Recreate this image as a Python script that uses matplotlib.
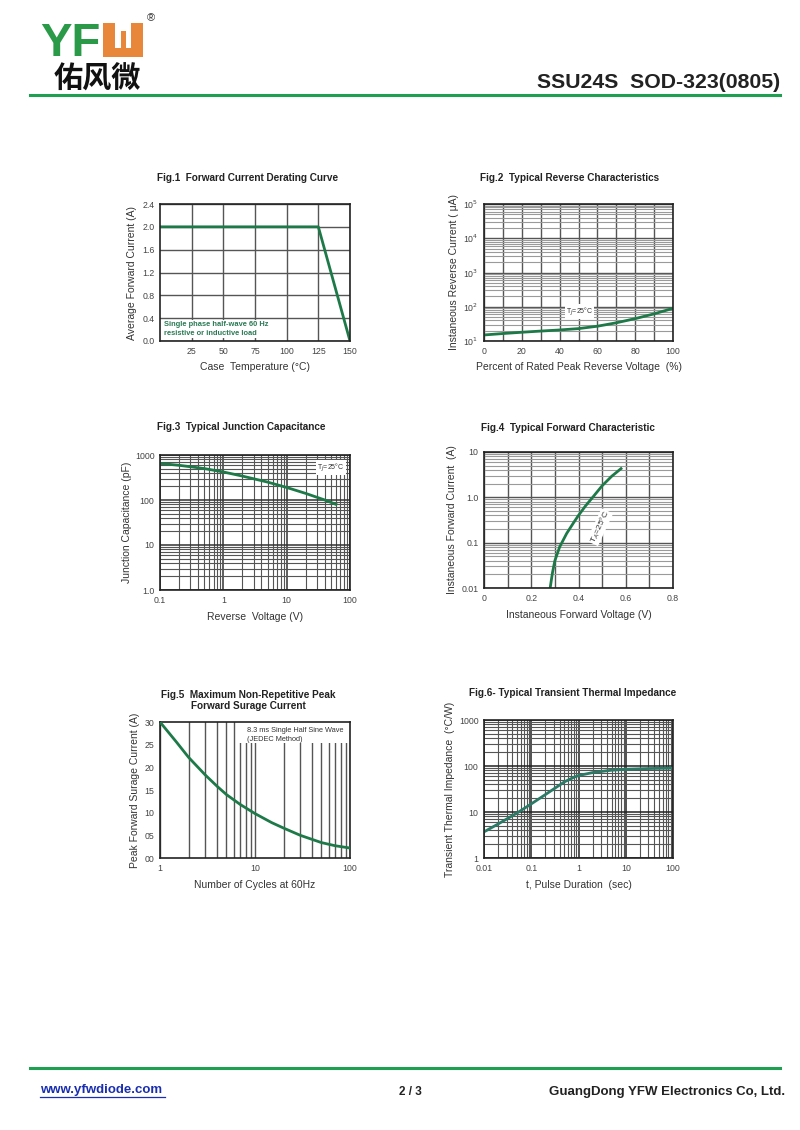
import matplotlib.pyplot as plt
from matplotlib.patches import Rectangle
from matplotlib.ticker import FixedLocator, NullFormatter, LogLocator
import numpy as np

plt.rcParams['font.family'] = ['Liberation Sans', 'DejaVu Sans']

W, H = 800, 1130
GREEN = '#1d7a48'
GRID = '#555555'
LIGHT = '#9a9a9a'
ORANGE = '#e8873a'

# Fig.1 derating
f1_temp = [0, 125, 150]
f1_curr = [2.0, 2.0, 0.0]
# Fig.2 reverse characteristics
f2_pct = [0, 10, 20, 30, 40, 50, 60, 70, 80, 90, 100]
f2_ir = [15, 16.5, 18, 19.5, 21, 23, 27, 34, 45, 62, 90]
# Fig.3 junction capacitance
f3_v = [0.1, 0.2, 0.5, 1, 2, 5, 10, 20, 40, 60]
f3_c = [650, 590, 500, 420, 340, 250, 190, 140, 100, 80]
# Fig.4 forward characteristic
f4_v = [0.28, 0.29, 0.30, 0.32, 0.35, 0.38, 0.40, 0.43, 0.46, 0.50, 0.54, 0.58]
f4_i = [0.01, 0.022, 0.04, 0.08, 0.16, 0.28, 0.40, 0.65, 1.0, 1.8, 2.9, 4.3]
# Fig.5 surge current
f5_n = [1, 1.5, 2, 3, 4, 5, 7, 10, 15, 20, 30, 50, 70, 100]
f5_a = [30, 25.5, 22.2, 18.3, 15.8, 14.0, 11.8, 9.8, 7.8, 6.6, 5.0, 3.4, 2.7, 2.2]
# Fig.6 thermal impedance
f6_t = [0.01, 0.02, 0.05, 0.1, 0.2, 0.5, 0.8, 1, 2, 5, 10, 30, 100]
f6_z = [3.7, 5.5, 9.5, 15, 24, 45, 57, 62, 72, 81, 85, 88, 90]


def add_ax(fig, l, t, r, b):
    return fig.add_axes([l / W, 1 - b / H, (r - l) / W, (b - t) / H])


def style(ax):
    for s in ax.spines.values():
        s.set_color('#222222')
        s.set_linewidth(1.2)
    ax.tick_params(which='both', length=0, labelsize=6.3, labelcolor='#444444', pad=4)


def px(x, y):
    return x / W, 1 - y / H


def rect(x, y, w, h):
    # pixel box (top-left x, y) -> figure patch
    fig.patches.append(Rectangle((x / W, 1 - (y + h) / H), w / W, h / H,
                                 transform=fig.transFigure, color=ORANGE, lw=0))


fig = plt.figure(figsize=(8, 11.3), dpi=100)

# header logo
fig.text(*px(40, 56), 'YF', fontsize=34, fontweight='bold', color='#2a9a48',
         ha='left', va='baseline')
rect(103, 23, 12, 34)
rect(131, 23, 12, 34)
rect(103, 48, 40, 9)
rect(121, 31, 5, 20)
fig.text(*px(151, 18), '®', fontsize=8, color='#333333', ha='center', va='center')
fig.text(*px(54, 79), '佑风微', fontsize=21, fontweight='bold', color='#111111',
         ha='left', va='center', family=['Noto Sans CJK SC', 'DejaVu Sans'])
fig.text(*px(780, 88), 'SSU24S  SOD-323(0805)', fontsize=15.3, fontweight='bold',
         color='#222222', ha='right', va='baseline')
fig.add_artist(plt.Line2D([30 / W, 780 / W], [1 - 95 / H] * 2, color='#1fa050', lw=2.2))

# footer
fig.add_artist(plt.Line2D([30 / W, 780 / W], [1 - 1068 / H] * 2, color='#1fa050', lw=2.2))
fig.text(*px(40, 1090), 'www.yfwdiode.com', fontsize=9.5, fontweight='bold',
         color='#1a2fb0', ha='left', va='center')
fig.add_artist(plt.Line2D([40 / W, 165 / W], [1 - 1097 / H] * 2, color='#1a2fb0', lw=0.9))
fig.text(*px(410, 1092), '2 / 3', fontsize=8.5, fontweight='bold', color='#222222',
         ha='center', va='center')
fig.text(*px(785, 1092), 'GuangDong YFW Electronics Co, Ltd.', fontsize=9.5,
         fontweight='bold', color='#222222', ha='right', va='center')

TITLE = dict(fontsize=7.2, fontweight='bold', color='#222222', ha='center', va='center')
LAB = dict(fontsize=7.5, color='#333333')

# ---- Fig.1
ax = add_ax(fig, 160, 204, 350, 341)
ax.plot(f1_temp, f1_curr, color=GREEN, lw=2)
ax.set_xlim(0, 150)
ax.set_ylim(0, 2.4)
ax.set_xticks([25, 50, 75, 100, 125, 150])
ax.set_yticks(np.arange(0, 2.41, 0.4))
ax.set_yticklabels(['0.0', '0.4', '0.8', '1.2', '1.6', '2.0', '2.4'])
ax.grid(True, color=GRID, lw=1.0)
ax.set_axisbelow(True)
style(ax)
ax.text(3.5, 0.11, 'Single phase half-wave 60 Hz\nresistive or inductive load',
        fontsize=5.4, fontweight='bold', color='#2a7a55', linespacing=1.3,
        bbox=dict(fc='white', ec='none', pad=1))
fig.text(*px(248, 178), 'Fig.1  Forward Current Derating Curve', **TITLE)
ax.set_xlabel('Case  Temperature (°C)', labelpad=5, **LAB)
ax.set_ylabel('Average Forward Current (A)', labelpad=4, **LAB)

# ---- Fig.2
ax = add_ax(fig, 484, 204, 673, 341)
ax.plot(f2_pct, f2_ir, color=GREEN, lw=2)
ax.set_xlim(0, 100)
ax.set_yscale('log')
ax.set_ylim(10, 1e5)
ax.set_xticks(range(0, 101, 20))
ax.xaxis.set_minor_locator(FixedLocator(range(10, 100, 20)))
ax.set_yticks([10, 100, 1000, 1e4, 1e5])
ax.set_yticklabels(['10$^1$', '10$^2$', '10$^3$', '10$^4$', '10$^5$'])
ax.yaxis.set_minor_locator(LogLocator(base=10, subs=np.arange(2, 10)))
ax.yaxis.set_minor_formatter(NullFormatter())
ax.grid(True, which='major', axis='both', color=GRID, lw=1.0)
ax.grid(True, which='minor', axis='x', color=GRID, lw=1.0)
ax.grid(True, which='minor', axis='y', color=LIGHT, lw=0.8)
ax.set_axisbelow(True)
style(ax)
ax.text(50.5, 71, 'T$_J$=25°C', fontsize=5, color='#333333', ha='center', va='center',
        bbox=dict(fc='white', ec='none', pad=0.8))
fig.text(*px(570, 178), 'Fig.2  Typical Reverse Characteristics', **TITLE)
ax.set_xlabel('Percent of Rated Peak Reverse Voltage  (%)', labelpad=5, **LAB)
ax.set_ylabel('Instaneous Reverse Current ( μA)', labelpad=3, **LAB)

# ---- Fig.3
ax = add_ax(fig, 160, 455, 350, 590)
ax.plot(f3_v, f3_c, color=GREEN, lw=2)
ax.set_xscale('log')
ax.set_yscale('log')
ax.set_xlim(0.1, 100)
ax.set_ylim(1, 1000)
ax.set_xticks([0.1, 1, 10, 100])
ax.set_xticklabels(['0.1', '1', '10', '100'])
ax.set_yticks([1, 10, 100, 1000])
ax.set_yticklabels(['1.0', '10', '100', '1000'])
for a in (ax.xaxis, ax.yaxis):
    a.set_minor_locator(LogLocator(base=10, subs=np.arange(2, 10)))
    a.set_minor_formatter(NullFormatter())
ax.grid(True, which='major', color='#333333', lw=1.1)
ax.grid(True, which='minor', color=GRID, lw=0.8)
ax.set_axisbelow(True)
style(ax)
ax.text(0.9, 0.905, 'T$_J$=25°C', transform=ax.transAxes, fontsize=5, color='#333333',
        ha='center', va='center', bbox=dict(fc='white', ec='none', pad=0.8))
fig.text(*px(241, 427), 'Fig.3  Typical Junction Capacitance', **TITLE)
ax.set_xlabel('Reverse  Voltage (V)', labelpad=5, **LAB)
ax.set_ylabel('Junction Capacitance (pF)', labelpad=2, **LAB)

# ---- Fig.4
ax = add_ax(fig, 484, 452, 673, 588)
ax.plot(f4_v, f4_i, color=GREEN, lw=2)
ax.set_xlim(0, 0.8)
ax.set_yscale('log')
ax.set_ylim(0.01, 10)
ax.set_xticks([0, 0.2, 0.4, 0.6, 0.8])
ax.set_xticklabels(['0', '0.2', '0.4', '0.6', '0.8'])
ax.xaxis.set_minor_locator(FixedLocator([0.1, 0.3, 0.5, 0.7]))
ax.set_yticks([0.01, 0.1, 1, 10])
ax.set_yticklabels(['0.01', '0.1', '1.0', '10'])
ax.yaxis.set_minor_locator(LogLocator(base=10, subs=np.arange(2, 10)))
ax.yaxis.set_minor_formatter(NullFormatter())
ax.grid(True, which='major', color=GRID, lw=1.0)
ax.grid(True, which='minor', axis='x', color=GRID, lw=1.0)
ax.grid(True, which='minor', axis='y', color=LIGHT, lw=0.8)
ax.set_axisbelow(True)
style(ax)
ax.text(0.49, 0.22, 'T$_A$=25°C', fontsize=6, color='#333333', rotation=65,
        ha='center', va='center', bbox=dict(fc='white', ec='none', pad=0.5))
fig.text(*px(568, 428), 'Fig.4  Typical Forward Characteristic', **TITLE)
ax.set_xlabel('Instaneous Forward Voltage (V)', labelpad=5, **LAB)
ax.set_ylabel('Instaneous Forward Current  (A)', labelpad=3, **LAB)

# ---- Fig.5
ax = add_ax(fig, 160, 722, 350, 858)
ax.plot(f5_n, f5_a, color=GREEN, lw=2, zorder=3)
ax.set_xscale('log')
ax.set_xlim(1, 100)
ax.set_ylim(0, 30)
ax.set_xticks([1, 10, 100])
ax.set_xticklabels(['1', '10', '100'])
ax.xaxis.set_minor_locator(LogLocator(base=10, subs=np.arange(2, 10)))
ax.xaxis.set_minor_formatter(NullFormatter())
ax.set_yticks(range(0, 31, 5))
ax.set_yticklabels(['00', '05', '10', '15', '20', '25', '30'])
ax.grid(True, which='both', axis='x', color=GRID, lw=1.0)
ax.set_axisbelow(True)
style(ax)
ax.add_patch(Rectangle((6.5, 25.4), 100 - 6.5, 4.6, fc='white', ec='none', zorder=1))
ax.text(8.3, 27.2, '8.3 ms Single Half Sine Wave\n(JEDEC Method)', fontsize=5.3,
        color='#333333', ha='left', va='center', linespacing=1.35, zorder=2)
fig.text(*px(248, 700.5), 'Fig.5  Maximum Non-Repetitive Peak\nForward Surage Current',
         linespacing=1.1, **TITLE)
ax.set_xlabel('Number of Cycles at 60Hz', labelpad=5, **LAB)
ax.set_ylabel('Peak Forward Surage Current (A)', labelpad=3, **LAB)

# ---- Fig.6
ax = add_ax(fig, 484, 720, 673, 858)
ax.plot(f6_t, f6_z, color='#2b7a66', lw=2)
ax.set_xscale('log')
ax.set_yscale('log')
ax.set_xlim(0.01, 100)
ax.set_ylim(1, 1000)
ax.set_xticks([0.01, 0.1, 1, 10, 100])
ax.set_xticklabels(['0.01', '0.1', '1', '10', '100'])
ax.set_yticks([1, 10, 100, 1000])
ax.set_yticklabels(['1', '10', '100', '1000'])
for a in (ax.xaxis, ax.yaxis):
    a.set_minor_locator(LogLocator(base=10, subs=np.arange(2, 10)))
    a.set_minor_formatter(NullFormatter())
ax.grid(True, which='major', color='#222222', lw=1.1)
ax.grid(True, which='minor', color=GRID, lw=0.8)
ax.set_axisbelow(True)
style(ax)
fig.text(*px(573, 693), 'Fig.6- Typical Transient Thermal Impedance', **TITLE)
ax.set_xlabel('t, Pulse Duration  (sec)', labelpad=5, **LAB)
ax.set_ylabel('Transient Thermal Impedance  (°C/W)', labelpad=3, **LAB)

fig.savefig('out.png', dpi=100)
